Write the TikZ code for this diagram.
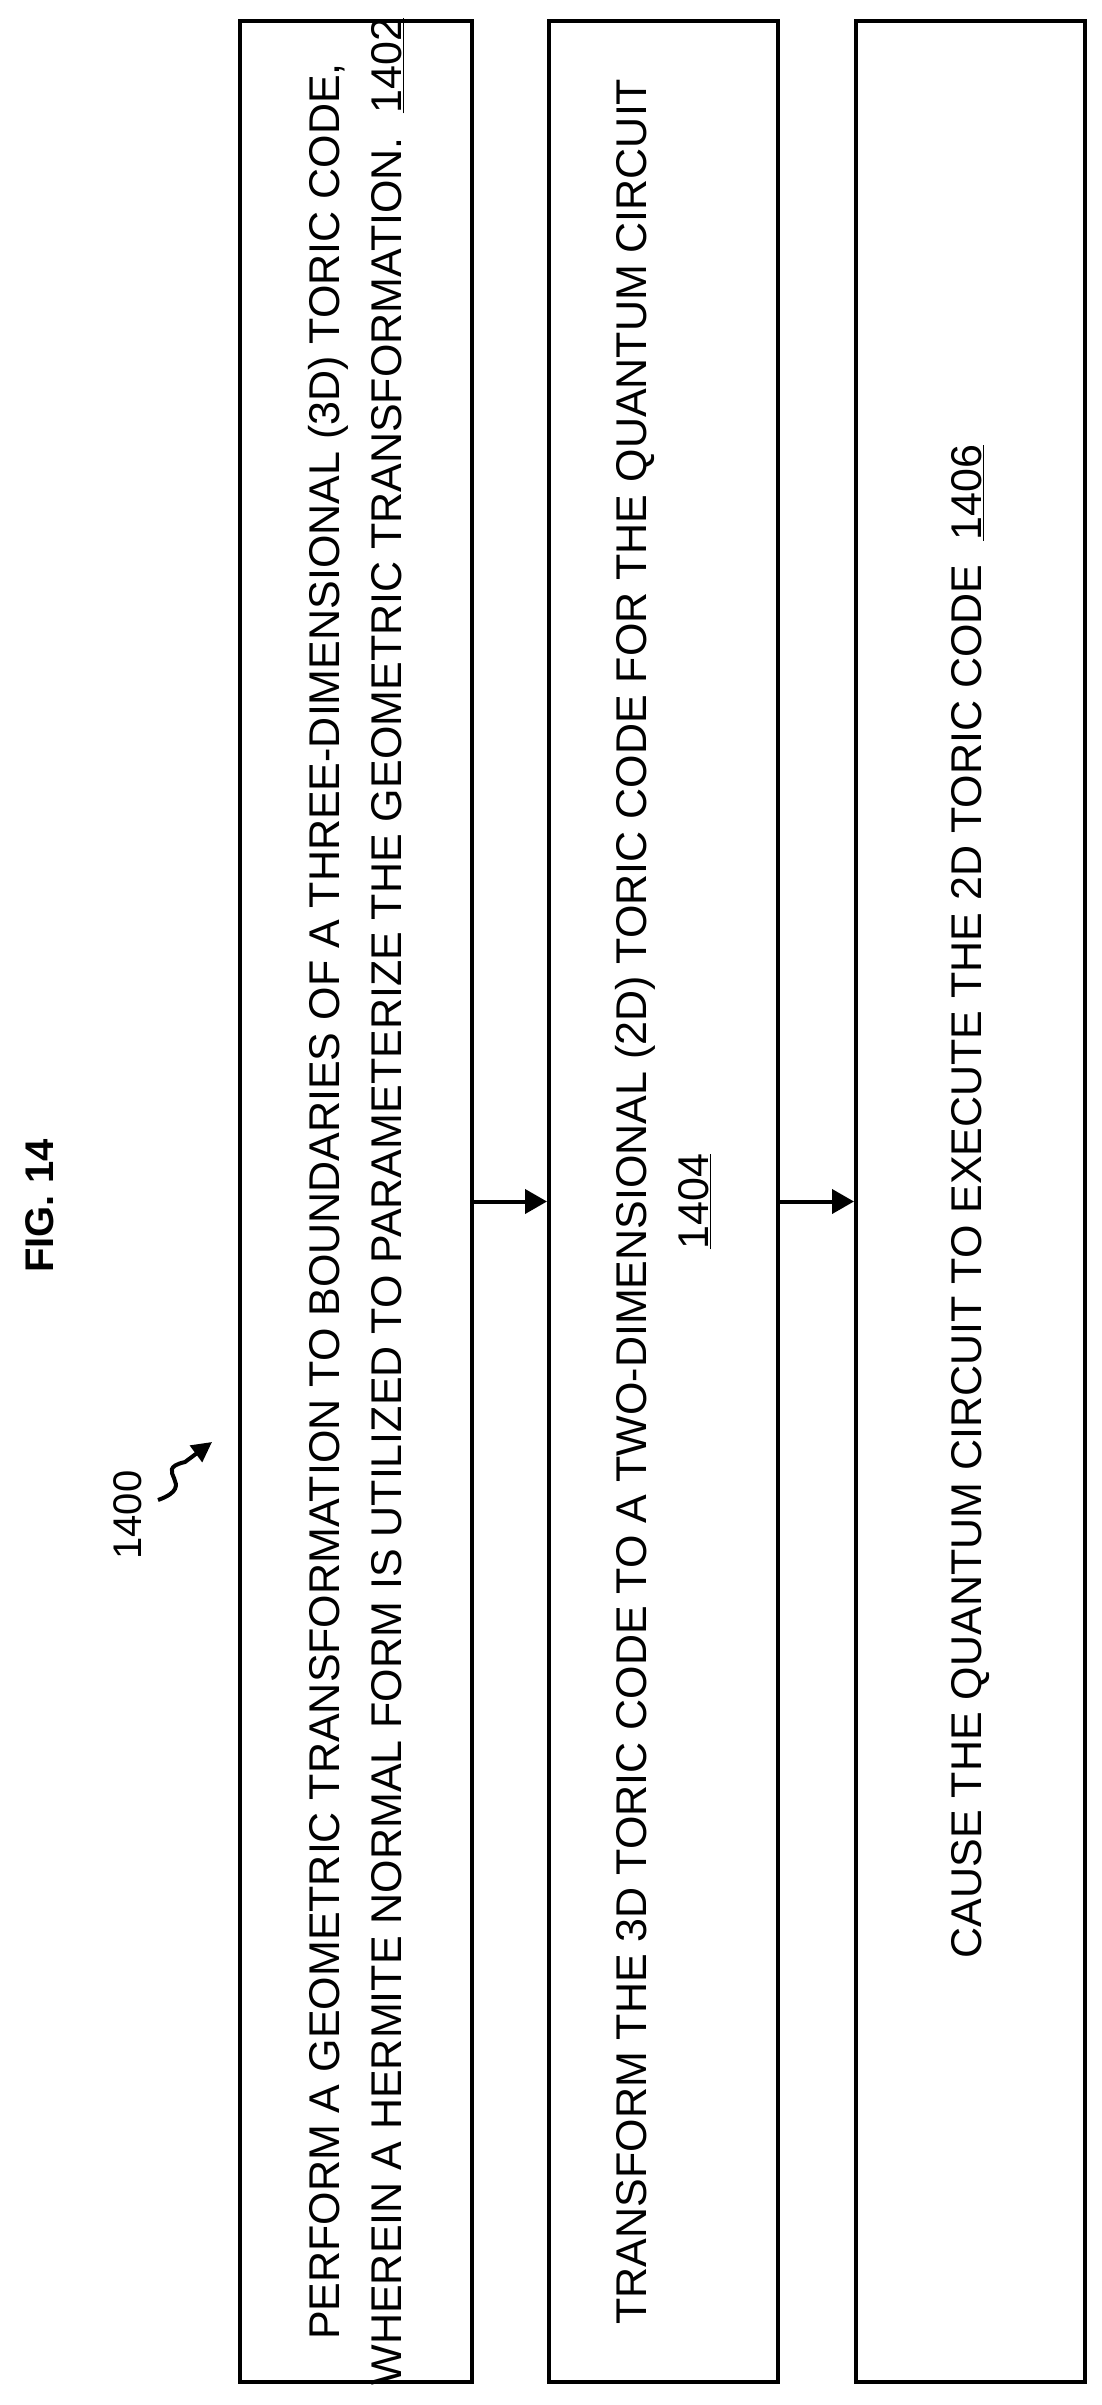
\documentclass[tikz,border=0pt]{standalone}
\usepackage{fontspec}
\setmainfont{Liberation Sans}
\usetikzlibrary{arrows.meta}
\begin{document}
\begin{tikzpicture}[x=1pt,y=-1pt,
  boxst/.style={draw,line width=4pt},
  txt/.style={rotate=90,font=\fontsize{43}{62}\selectfont,align=center,inner sep=0},
  arr/.style={line width=4pt,-{Triangle[length=22pt,width=24pt]}}]
\useasboundingbox (0,0) rectangle (1101,2405);
\node[boxst,minimum width=232pt,minimum height=2361pt,inner sep=0] (b1) at (356,1201.5) {};
\node[boxst,minimum width=229pt,minimum height=2361pt,inner sep=0] (b2) at (663.5,1201.5) {};
\node[boxst,minimum width=229pt,minimum height=2361pt,inner sep=0] (b3) at (970.5,1201.5) {};
\node[txt] (t1) at (b1.center) {PERFORM A GEOMETRIC TRANSFORMATION TO BOUNDARIES OF A THREE-DIMENSIONAL (3D) TORIC CODE,\\WHEREIN A HERMITE NORMAL FORM IS UTILIZED TO PARAMETERIZE THE GEOMETRIC TRANSFORMATION.\ \ \underline{1402}};
\node[txt] (t2) at (b2.center) {TRANSFORM THE 3D TORIC CODE TO A TWO-DIMENSIONAL (2D) TORIC CODE FOR THE QUANTUM CIRCUIT\\\underline{1404}};
\node[txt] (t3) at (b3.center) {CAUSE THE QUANTUM CIRCUIT TO EXECUTE THE 2D TORIC CODE\ \ \underline{1406}};
\draw[arr] (b1.east) -- (b2.west);
\draw[arr] (b2.east) -- (b3.west);
\node[rotate=90,font=\fontsize{40}{48}\selectfont\bfseries,inner sep=0] (fig) at (40,1206) {FIG. 14};
\node[rotate=90,font=\fontsize{40}{48}\selectfont,inner sep=0] (lbl) at (128,1515) {1400};
\coordinate (sq0) at (158,1500);
\coordinate (sq1) at (212,1442);
\draw[line width=4pt,-{Triangle[length=20pt,width=20pt]}] (sq0) .. controls (200,1485) and (150,1470) .. (185,1462) -- (sq1);
\end{tikzpicture}
\end{document}
